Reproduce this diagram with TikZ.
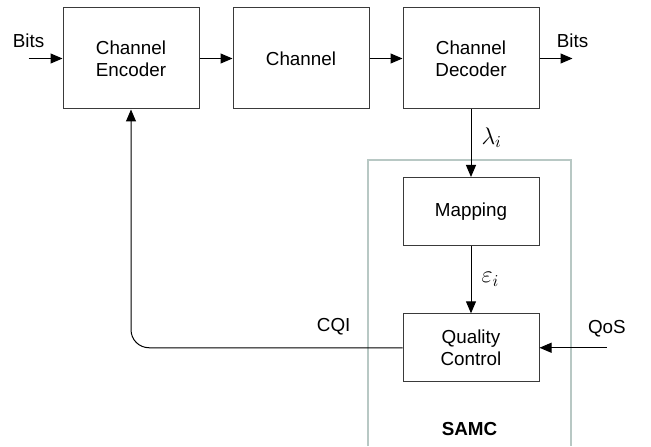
\documentclass[tikz,border=0pt]{standalone}
\usepackage{amsmath}
\usepackage{xcolor}
\usepackage{fontspec}
\setmainfont{Liberation Sans}
\usepackage{tikz}
\usetikzlibrary{positioning}
\usetikzlibrary{arrows.meta}
\definecolor{boxline}{HTML}{3A3A3A}
\definecolor{samcline}{HTML}{B8C8C4}
\tikzset{	node distance=19.8pt,
	block/.style={
		draw=boxline,
		line width=0.6pt,
		minimum width=81.6pt,
		minimum height=60.6pt,
		align=center,
		font=\fontsize{11.3}{13.4}\selectfont},
	smallblock/.style={
		block,
		minimum height=40.7pt},
	lbl/.style={
		inner sep=0pt,
		font=\fontsize{11.3}{13.4}\selectfont},
	tip/.style={
		-{Triangle[length=7.2pt,width=6pt]},
		line width=0.6pt},
	every edge/.style={
		draw,
		tip}
}

\begin{document}
\begin{tikzpicture}[x=0.6pt,y=-0.6pt]
				\useasboundingbox (0,0) rectangle (651,446);
				% SAMC frame
				\draw[samcline, line width=0.8pt] (368,446) -- (368,160) -- (571,160) -- (571,446);
				\node[lbl, font=\fontsize{11.3}{13.4}\selectfont\bfseries] (samc) at (469.5,429) {SAMC};
				% top chain
				\node[block] (enc) at (131,58.5) {Channel\\Encoder};
				\node[block, right=of enc] (chan) {Channel};
				\node[block, right=of chan] (dec) {Channel\\Decoder};
				\node[smallblock, below=40.5pt of dec] (map) {Mapping};
				\node[smallblock, below=40.5pt of map] (qc) {Quality\\Control};
				\coordinate[left=20.4pt of enc] (bin);
				\coordinate[right=19.8pt of dec] (bout);
				\coordinate[right=40.4pt of qc] (qos);
				\node[lbl, above=6pt of bin] (binl) {Bits};
				\node[lbl, above=6pt of bout] (boutl) {Bits};
				\node[lbl, above=6.5pt of qos] (qosl) {QoS};
				\draw (bin) edge (enc);
				\draw (enc) edge (chan);
				\draw (chan) edge (dec);
				\draw (dec) edge (bout);
				\draw (dec) edge node[lbl, right=6pt, pos=0.42] {\fontsize{14}{14}\selectfont$\lambda_i$} (map);
				\draw (map) edge node[lbl, right=6pt] {\fontsize{14}{14}\selectfont$\varepsilon_i$} (qc);
				\draw (qos) edge (qc);
				\draw[tip, rounded corners=10.8pt] (qc.west) -| (enc.south);
				\node[lbl] (cqi) at (333.7,327) {CQI};
			\end{tikzpicture}
\end{document}
